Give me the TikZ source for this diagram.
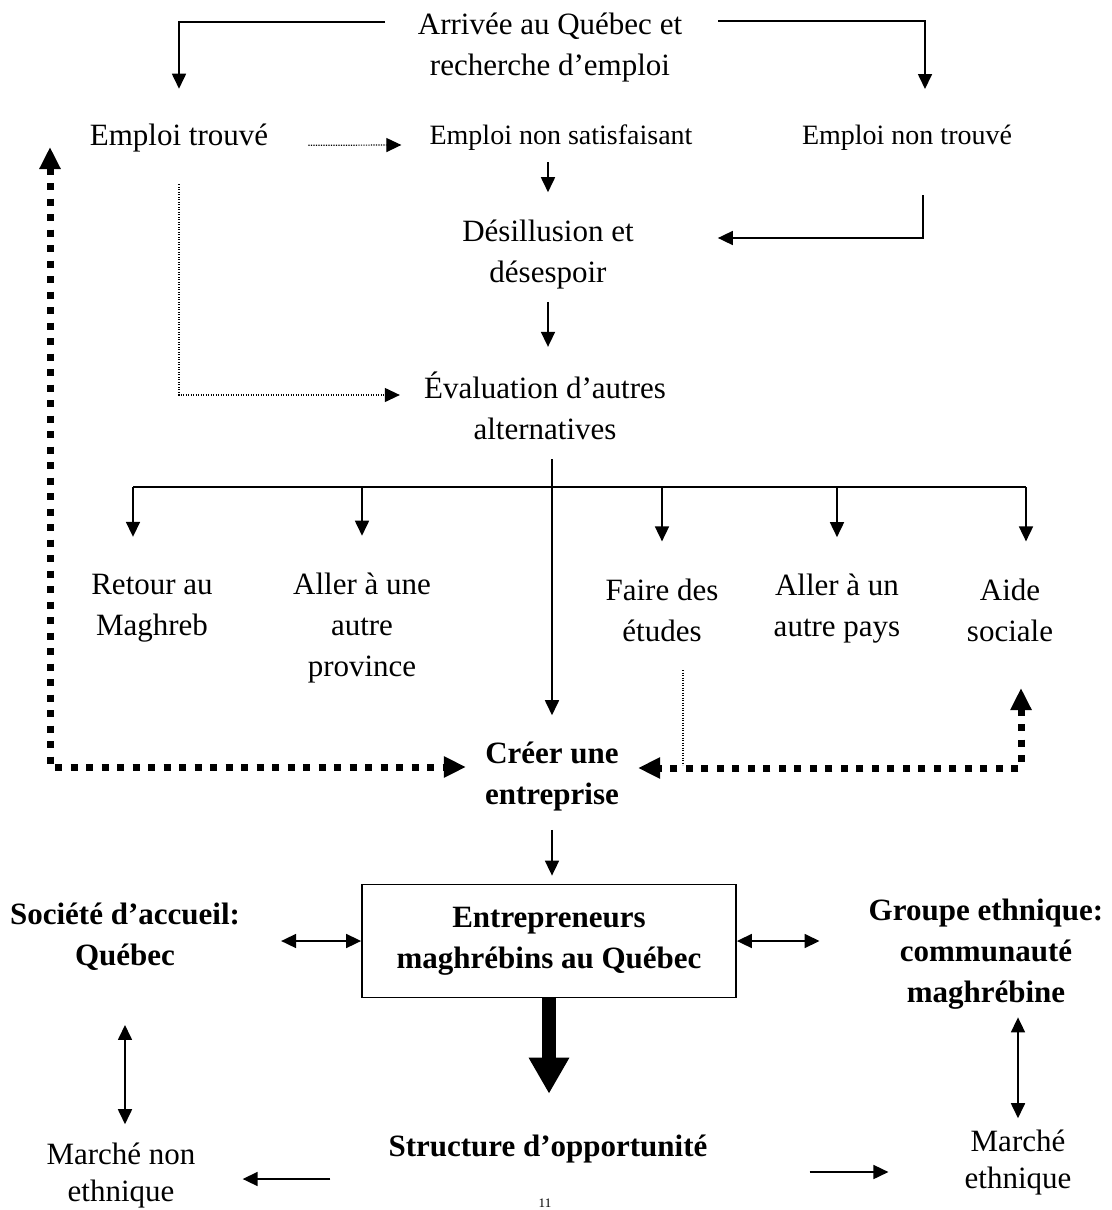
\documentclass[tikz,border=0pt]{standalone}
\usepackage{fontspec}
\setmainfont{Liberation Serif}
\usetikzlibrary{arrows.meta,calc}
\tikzset{
  txt/.style={font=\fontsize{31}{41}\selectfont,align=center,inner sep=0pt},
  lowtxt/.style={font=\fontsize{31}{37}\selectfont,align=center,inner sep=0pt},
  smalltxt/.style={font=\fontsize{28}{36}\selectfont,align=center,inner sep=0pt},
  boldtxt/.style={txt,font=\fontsize{31}{41}\selectfont\bfseries},
  ln/.style={line width=1.7pt},
  arr/.style={ln,-{Triangle[length=15pt,width=14pt]}},
  dblarr/.style={ln,{Triangle[length=15pt,width=14pt]}-{Triangle[length=15pt,width=14pt]}},
  thindots/.style={line width=1.2pt,dash pattern=on 1.2pt off 1.3pt},
  dotarr/.style={thindots,-{Triangle[length=15pt,width=14pt]}},
  bigdots/.style={line width=7pt,dash pattern=on 7pt off 8.5pt,
    {Triangle[length=22pt,width=20pt]}-{Triangle[length=22pt,width=20pt]}}
}
\begin{document}
\begin{tikzpicture}[x=1pt,y=-1pt]
\useasboundingbox (0,0) rectangle (1111,1210);
%top part
\node[txt] (arrivee) at (550,48) {Arrivée au Québec et\\recherche d’emploi};
\node[txt] (trouve) at (179,138) {Emploi trouvé};
\node[smalltxt] (nonsat) at (561,138) {Emploi non satisfaisant};
\node[smalltxt] (nontrouve) at (907,138) {Emploi non trouvé};
\node[txt] (desill) at (548,255) {Désillusion et\\désespoir};
\node[txt] (eval) at (545,406) {Évaluation d’autres\\alternatives};
%alternatives
\node[txt] (retour) at (152,608) {Retour au\\Maghreb};
\node[txt] (province) at (362,628) {Aller à une\\autre\\province};
\node[txt] (etudes) at (662,610) {Faire des\\études};
\node[txt] (pays) at (837,609) {Aller à un\\autre pays};
\node[txt] (aide) at (1010,610) {Aide\\sociale};
%lower part
\node[boldtxt] (creer) at (552,777) {Créer une\\entreprise};
\node[boldtxt,draw,line width=1.8pt,minimum width=374pt,minimum height=113pt] (entr) at (549,941) {Entrepreneurs\\maghrébins au Québec};
\node[boldtxt] (societe) at (125,937) {Société d’accueil:\\Québec};
\node[boldtxt] (groupe) at (986,954) {Groupe ethnique:\\communauté\\maghrébine};
\node[boldtxt] (structure) at (548,1149) {Structure d’opportunité};
\node[lowtxt] (nonethn) at (121,1176) {Marché non\\ethnique};
\node[lowtxt] (ethn) at (1018,1163) {Marché\\ethnique};
\node[font=\fontsize{13}{15}\selectfont,anchor=north,inner sep=0pt] (page) at (545,1199) {11};
%free ends
\coordinate (aL) at (385,22);
\coordinate (aR) at (718,21);
\coordinate (aRend) at (925,89);
\coordinate (ntS) at (923,195);
\coordinate (bar) at (552,487);
\coordinate (upL) at (50,147);
\coordinate (upR) at (1021,688);
\coordinate (etD) at (683,670);
\coordinate (sL) at ([yshift=-30pt]structure.west);
\coordinate (sR) at ([yshift=-23pt]structure.east);
%arrows top
\draw[arr,shorten >=35pt] (aL) -| (trouve.north);
\draw[arr] (aR) -| (aRend);
\draw[dotarr,shorten <=40pt,shorten >=28pt] (trouve.base east) -- (nonsat.base west);
\draw[arr,shorten <=11pt,shorten >=28pt] (nonsat.south -| desill.north) -- (desill.north);
\draw[arr,shorten >=84pt] (ntS) |- ([yshift=17pt]desill.east);
\draw[arr,shorten <=12pt,shorten >=25pt] (desill.south) -- (desill.south |- eval.north);
\draw[dotarr,shorten <=32pt,shorten >=24pt] (trouve.south) |- ([yshift=11pt]eval.west);
%branches
\draw[ln] ($(retour.north |- bar)+(-19,0)$) -- ($(aide.north |- bar)+(16,0)$);
\foreach \n/\dx in {retour/-19,province/0,etudes/0,pays/0,aide/16}
  \draw[arr] ($(\n.north |- bar)+(\dx,0)$) -- ($(\n.north)+(\dx,-37)$);
\draw[arr,shorten <=19pt,shorten >=27pt] (eval.south -| creer.north) -- (creer.north);
\draw[thindots] (etD) -- ++(0,95);
\draw[bigdots,shorten >=19pt] (upL) |- ([yshift=10pt]creer.west);
\draw[bigdots,shorten >=19pt] (upR) |- ([yshift=9pt]creer.east);
%entrepreneurs
\draw[arr,shorten <=18pt,shorten >=8pt] (creer.south) -- (creer.south |- entr.north);
\draw[dblarr,shorten >=41pt] (entr.west) -- (entr.west -| societe.east);
\draw[dblarr,shorten >=49pt] (entr.east) -- (entr.east -| groupe.west);
\draw[dblarr,shorten <=54pt,shorten >=19pt] (societe.south) -- (societe.south |- nonethn.north);
\draw[dblarr,shorten <=8pt,shorten >=12pt] (ethn.north |- groupe.south) -- (ethn.north);
\draw[line width=14pt,-{Triangle[length=36pt,width=38pt]},shorten >=41pt] (entr.south) -- (entr.south |- structure.north);
\draw[arr,shorten <=58pt,shorten >=47pt] (sL) -- (sL -| nonethn.east);
\draw[arr,shorten <=102pt,shorten >=76pt] (sR) -- (sR -| ethn.west);
\end{tikzpicture}
\end{document}
